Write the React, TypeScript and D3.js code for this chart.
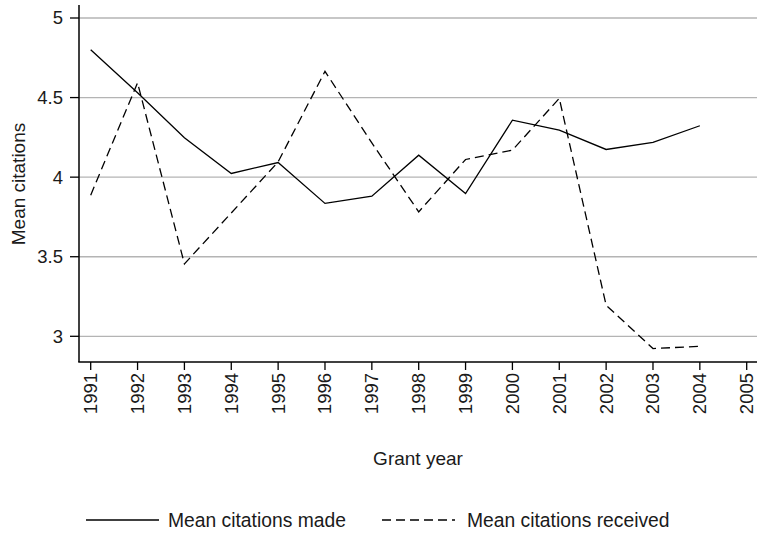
import React from "react";
import * as d3 from "d3";

const years = [1991, 1992, 1993, 1994, 1995, 1996, 1997, 1998, 1999, 2000, 2001, 2002, 2003, 2004];
const citationsMade = [4.80, 4.53, 4.247, 4.023, 4.092, 3.835, 3.880, 4.138, 3.897, 4.358, 4.296, 4.174, 4.218, 4.323];
const citationsReceived = [3.887, 4.593, 3.455, 3.775, 4.096, 4.665, 4.215, 3.782, 4.111, 4.170, 4.495, 3.195, 2.923, 2.937];
const xTicks = [1991, 1992, 1993, 1994, 1995, 1996, 1997, 1998, 1999, 2000, 2001, 2002, 2003, 2004, 2005];
const yTicks = [3, 3.5, 4, 4.5, 5];
const yTickLabels = ["3", "3.5", "4", "4.5", "5"];

const W = 757;
const H = 533;
const FONT = "'Liberation Sans', Arial, sans-serif";

export default function App() {
  const x = d3.scaleLinear().domain([1991, 2005]).range([90.7, 746.7]);
  const y = d3.scaleLinear().domain([3, 5]).range([336.3, 18]);
  const plotLeft = 79;
  const plotBottom = 362;
  const plotTop = 5;
  const plotRight = 757;

  const line = d3
    .line<number>()
    .x((_, i) => x(years[i]))
    .y((d) => y(d));

  return (
    <svg
      width={W}
      height={H}
      style={{ position: "absolute", left: 0, top: 0, background: "#fff" }}
      fontFamily={FONT}
    >
      <rect x={0} y={0} width={W} height={H} fill="#fff" />
      {yTicks.map((t) => (
        <line
          key={"g" + t}
          x1={plotLeft}
          x2={plotRight}
          y1={y(t)}
          y2={y(t)}
          stroke="#b4b4b4"
          strokeWidth={1.3}
        />
      ))}
      <path d={line(citationsMade) || ""} fill="none" stroke="#000" strokeWidth={1.3} />
      <path
        d={line(citationsReceived) || ""}
        fill="none"
        stroke="#000"
        strokeWidth={1.3}
        strokeDasharray="9,5"
      />
      <line x1={plotLeft} x2={plotLeft} y1={plotTop} y2={plotBottom} stroke="#000" strokeWidth={1.5} />
      <line x1={plotLeft - 0.75} x2={plotRight} y1={plotBottom} y2={plotBottom} stroke="#000" strokeWidth={1.5} />
      {yTicks.map((t, i) => (
        <g key={"yt" + t}>
          <line x1={plotLeft - 9} x2={plotLeft} y1={y(t)} y2={y(t)} stroke="#000" strokeWidth={1.3} />
          <text x={63} y={y(t)} dy="0.35em" textAnchor="end" fontSize={18.5} fill="#1a1a1a">
            {yTickLabels[i]}
          </text>
        </g>
      ))}
      {xTicks.map((t) => (
        <g key={"xt" + t}>
          <line x1={x(t)} x2={x(t)} y1={plotBottom} y2={plotBottom + 8} stroke="#000" strokeWidth={1.3} />
          <text
            transform={`translate(${x(t) + 6.5},${373}) rotate(-90)`}
            textAnchor="end"
            fontSize={18.5}
            fill="#1a1a1a"
          >
            {t}
          </text>
        </g>
      ))}
      <text
        transform={`translate(${25},${184}) rotate(-90)`}
        textAnchor="middle"
        fontSize={19}
        fill="#1a1a1a"
      >
        Mean citations
      </text>
      <text x={418} y={465} textAnchor="middle" fontSize={19} fill="#1a1a1a">
        Grant year
      </text>
      <g>
        <line x1={86} x2={159} y1={520} y2={520} stroke="#000" strokeWidth={1.3} />
        <text x={168} y={527} fontSize={19.3} fill="#1a1a1a">
          Mean citations made
        </text>
        <line x1={382} x2={455} y1={520} y2={520} stroke="#000" strokeWidth={1.3} strokeDasharray="9,5" />
        <text x={467} y={527} fontSize={19.3} fill="#1a1a1a">
          Mean citations received
        </text>
      </g>
    </svg>
  );
}
